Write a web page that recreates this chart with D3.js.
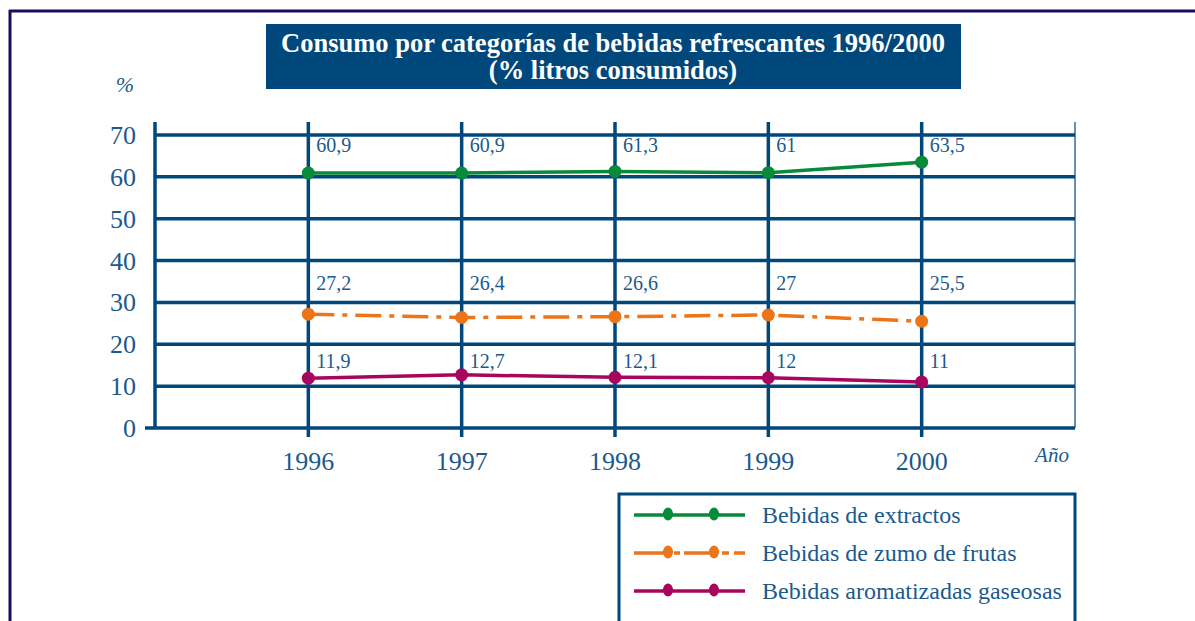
<!DOCTYPE html>
<html>
<head>
<meta charset="utf-8">
<script src="https://cdn.jsdelivr.net/npm/d3@7/dist/d3.min.js"></script>
<style>
  html, body { margin: 0; padding: 0; background: #fff; }
  svg { display: block; }
</style>
</head>
<body>
<svg id="chart" width="1195" height="621"></svg>
<script>
// ---- Data ----
const years = [1996, 1997, 1998, 1999, 2000];
const extractos = [60.9, 60.9, 61.3, 61, 63.5];
const zumoFrutas = [27.2, 26.4, 26.6, 27, 25.5];
const gaseosas = [11.9, 12.7, 12.1, 12, 11];
const seriesNames = ["Bebidas de extractos", "Bebidas de zumo de frutas", "Bebidas aromatizadas gaseosas"];
const yTicks = [0, 10, 20, 30, 40, 50, 60, 70];
const titleLines = ["Consumo por categorías de bebidas refrescantes 1996/2000", "(% litros consumidos)"];

// ---- Styles ----
const gridColor = "#00477C";
const textColor = "#1B5A8C";
const serif = "'Liberation Serif', 'Times New Roman', Times, serif";
const series = [
  { name: seriesNames[0], values: extractos, color: "#078A3A", dash: null },
  { name: seriesNames[1], values: zumoFrutas, color: "#EC7419", dash: "26,8,5,8" },
  { name: seriesNames[2], values: gaseosas, color: "#A8055F", dash: null }
];
// vertical level (data units) and pixel offset for each series' value labels
const labelLevels = [70, 30, 10];
const labelOffsets = [17, -12, -18];

const svg = d3.select("#chart");

// outer frame (top + left)
svg.append("line").attr("x1", 9).attr("x2", 1195).attr("y1", 11).attr("y2", 11)
  .attr("stroke", "#15105E").attr("stroke-width", 3);
svg.append("line").attr("x1", 10).attr("x2", 10).attr("y1", 10).attr("y2", 621)
  .attr("stroke", "#15105E").attr("stroke-width", 3);

// title box
const tb = svg.append("g");
tb.append("rect").attr("x", 266).attr("y", 24).attr("width", 695).attr("height", 65).attr("fill", "#00487B");
titleLines.forEach((t, i) => {
  tb.append("text").attr("x", 613).attr("y", 52 + i * 27)
    .attr("text-anchor", "middle").attr("fill", "#fff")
    .attr("font-family", serif).attr("font-weight", "bold").attr("font-size", 26.5)
    .text(t);
});

// scales
const x = d3.scaleLinear().domain([1995, 2001]).range([155, 1075]);
const y = d3.scaleLinear().domain([0, 70]).range([428, 135]);

// horizontal grid lines
const g = svg.append("g");
g.selectAll("line.h").data(yTicks).join("line")
  .attr("x1", d => d === 0 ? 145 : x(1995)).attr("x2", x(2001))
  .attr("y1", d => y(d)).attr("y2", d => y(d))
  .attr("stroke", gridColor).attr("stroke-width", 3.5);

// left axis
g.append("line").attr("x1", x(1995)).attr("x2", x(1995)).attr("y1", 122).attr("y2", y(0))
  .attr("stroke", gridColor).attr("stroke-width", 3.5);
// right thin edge
g.append("line").attr("x1", x(2001)).attr("x2", x(2001)).attr("y1", 122).attr("y2", y(0))
  .attr("stroke", gridColor).attr("stroke-width", 1.2);
// vertical lines at years
g.selectAll("line.v").data(years).join("line")
  .attr("x1", d => x(d)).attr("x2", d => x(d))
  .attr("y1", 122).attr("y2", 437)
  .attr("stroke", gridColor).attr("stroke-width", 3.5);

// y tick labels
g.selectAll("text.yt").data(yTicks).join("text")
  .attr("x", 136).attr("y", d => y(d) + 9)
  .attr("text-anchor", "end").attr("fill", textColor)
  .attr("font-family", serif).attr("font-size", 26)
  .text(d => d);

// x tick labels
g.selectAll("text.xt").data(years).join("text")
  .attr("x", d => x(d)).attr("y", 470)
  .attr("text-anchor", "middle").attr("fill", textColor)
  .attr("font-family", serif).attr("font-size", 26)
  .text(d => d);

// axis titles
svg.append("text").attr("x", 125).attr("y", 92).attr("text-anchor", "middle")
  .attr("fill", textColor).attr("font-family", serif).attr("font-style", "italic").attr("font-size", 22).text("%");
svg.append("text").attr("x", 1052).attr("y", 462).attr("text-anchor", "middle")
  .attr("fill", textColor).attr("font-family", serif).attr("font-style", "italic").attr("font-size", 21).text("Año");

// series lines
const line = d3.line().x((d, i) => x(years[i])).y(d => y(d));
series.forEach((s, si) => {
  const sg = svg.append("g");
  sg.append("path").datum(s.values).attr("d", line)
    .attr("fill", "none").attr("stroke", s.color).attr("stroke-width", 3.5)
    .attr("stroke-dasharray", s.dash);
  sg.selectAll("circle").data(s.values).join("circle")
    .attr("cx", (d, i) => x(years[i])).attr("cy", d => y(d)).attr("r", 6.5)
    .attr("fill", s.color);
  sg.selectAll("text").data(s.values).join("text")
    .attr("x", (d, i) => x(years[i]) + 8)
    .attr("y", y(labelLevels[si]) + labelOffsets[si])
    .attr("fill", textColor).attr("font-family", serif).attr("font-size", 20)
    .text(d => String(d).replace(".", ","));
});

// legend
const lg = svg.append("g");
lg.append("rect").attr("x", 619).attr("y", 494).attr("width", 456).attr("height", 140)
  .attr("fill", "#fff").attr("stroke", gridColor).attr("stroke-width", 3);
series.forEach((s, i) => {
  const ly = 515 + i * 38;
  if (s.dash) {
    lg.append("line").attr("x1", 634).attr("x2", 668).attr("y1", ly).attr("y2", ly)
      .attr("stroke", s.color).attr("stroke-width", 3.5);
    lg.append("line").attr("x1", 668).attr("x2", 690).attr("y1", ly).attr("y2", ly)
      .attr("stroke", s.color).attr("stroke-width", 3.5).attr("stroke-dasharray", "0,6,6,4,6");
    lg.append("line").attr("x1", 690).attr("x2", 714).attr("y1", ly).attr("y2", ly)
      .attr("stroke", s.color).attr("stroke-width", 3.5);
    lg.append("line").attr("x1", 714).attr("x2", 745).attr("y1", ly).attr("y2", ly)
      .attr("stroke", s.color).attr("stroke-width", 3.5).attr("stroke-dasharray", "0,8,7,5,7");
  } else {
    lg.append("line").attr("x1", 634).attr("x2", 745).attr("y1", ly).attr("y2", ly)
      .attr("stroke", s.color).attr("stroke-width", 3.5);
  }
  [668, 714].forEach(cx => {
    lg.append("ellipse").attr("cx", cx).attr("cy", ly - 1).attr("rx", 5).attr("ry", 6.5).attr("fill", s.color);
  });
  lg.append("text").attr("x", 762).attr("y", ly + 8)
    .attr("fill", textColor).attr("font-family", serif).attr("font-size", 24)
    .text(s.name);
});
</script>
</body>
</html>
